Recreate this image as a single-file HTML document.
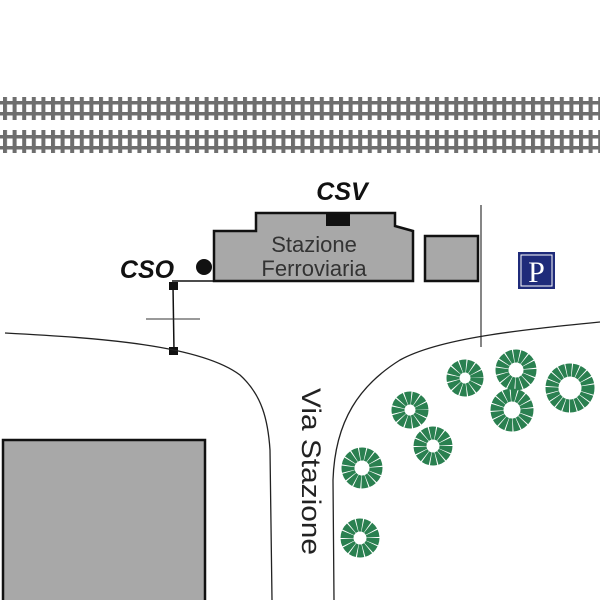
<!DOCTYPE html>
<html><head><style>body{margin:0;background:#fff}svg{display:block}</style></head><body>
<svg width="600" height="600" viewBox="0 0 600 600" xmlns="http://www.w3.org/2000/svg">
<defs>
<pattern id="ties" x="3" y="0" width="9.6" height="600" patternUnits="userSpaceOnUse">
<rect x="0" y="0" width="4" height="600" fill="#6e6e6e"/>
</pattern>
</defs>
<rect x="3" y="97" width="597" height="23" fill="url(#ties)"/>
<rect x="0" y="101" width="600" height="3.5" fill="#6e6e6e"/>
<rect x="0" y="112" width="600" height="3.5" fill="#6e6e6e"/>
<rect x="3" y="130" width="597" height="23" fill="url(#ties)"/>
<rect x="0" y="135" width="600" height="3.5" fill="#6e6e6e"/>
<rect x="0" y="146" width="600" height="3.5" fill="#6e6e6e"/>

<polygon points="214,231 256,231 256,213 395,213 395,226 413,231 413,281 214,281" fill="#a8a8a8" stroke="#111" stroke-width="2.5"/>
<rect x="326" y="213" width="24" height="13" fill="#111"/>
<rect x="425" y="236" width="53" height="45" fill="#a8a8a8" stroke="#111" stroke-width="2.5"/>
<text x="314" y="252" font-family="Liberation Sans, sans-serif" font-size="22" fill="#333" text-anchor="middle">Stazione</text>
<text x="314" y="276" font-family="Liberation Sans, sans-serif" font-size="22" fill="#333" text-anchor="middle">Ferroviaria</text>
<text x="342" y="200" font-family="Liberation Sans, sans-serif" font-size="25" font-weight="bold" font-style="italic" fill="#111" text-anchor="middle">CSV</text>
<text x="147" y="278" font-family="Liberation Sans, sans-serif" font-size="25" font-weight="bold" font-style="italic" fill="#111" text-anchor="middle">CSO</text>
<circle cx="204" cy="267" r="8" fill="#111"/>
<line x1="172" y1="281" x2="214" y2="281" stroke="#111" stroke-width="1.5"/>
<line x1="173" y1="286" x2="174" y2="351" stroke="#111" stroke-width="1.5"/>
<line x1="146" y1="319" x2="200" y2="319" stroke="#333" stroke-width="1"/>
<rect x="169" y="282" width="9" height="8" fill="#111"/>
<rect x="169" y="347" width="9" height="8" fill="#111"/>
<line x1="481" y1="205" x2="481" y2="347" stroke="#444" stroke-width="1.3"/>

<path d="M5,333 C100,338 200,345 240,375 C262,395 268,420 270,450 L272,600" fill="none" stroke="#222" stroke-width="1.3"/>
<path d="M600,322 C520,330 440,338 400,360 C360,385 335,420 333,480 L334,600" fill="none" stroke="#222" stroke-width="1.3"/>
<text transform="translate(302,388) rotate(90)" font-family="Liberation Sans, sans-serif" font-size="27" textLength="167" lengthAdjust="spacingAndGlyphs" fill="#222">Via Stazione</text>

<rect x="3" y="440" width="202" height="162" fill="#a8a8a8" stroke="#111" stroke-width="2.5"/>

<rect x="518" y="252" width="37" height="37" fill="#1f2b7a"/>
<rect x="521" y="255" width="31" height="31" fill="none" stroke="#fff" stroke-width="1"/>
<text x="536.5" y="282" font-family="Liberation Serif, serif" font-size="30" fill="#fff" text-anchor="middle">P</text>

<g fill="none" stroke="#2a8050" stroke-width="13" stroke-dasharray="5 0.8">
<circle cx="465" cy="378" r="12"/>
<circle cx="516" cy="370" r="14"/>
<circle cx="570" cy="388" r="18"/>
<circle cx="512" cy="410" r="15"/>
<circle cx="410" cy="410" r="12"/>
<circle cx="433" cy="446" r="13"/>
<circle cx="362" cy="468" r="14"/>
<circle cx="360" cy="538" r="13"/>
</g>
</svg>
</body></html>
